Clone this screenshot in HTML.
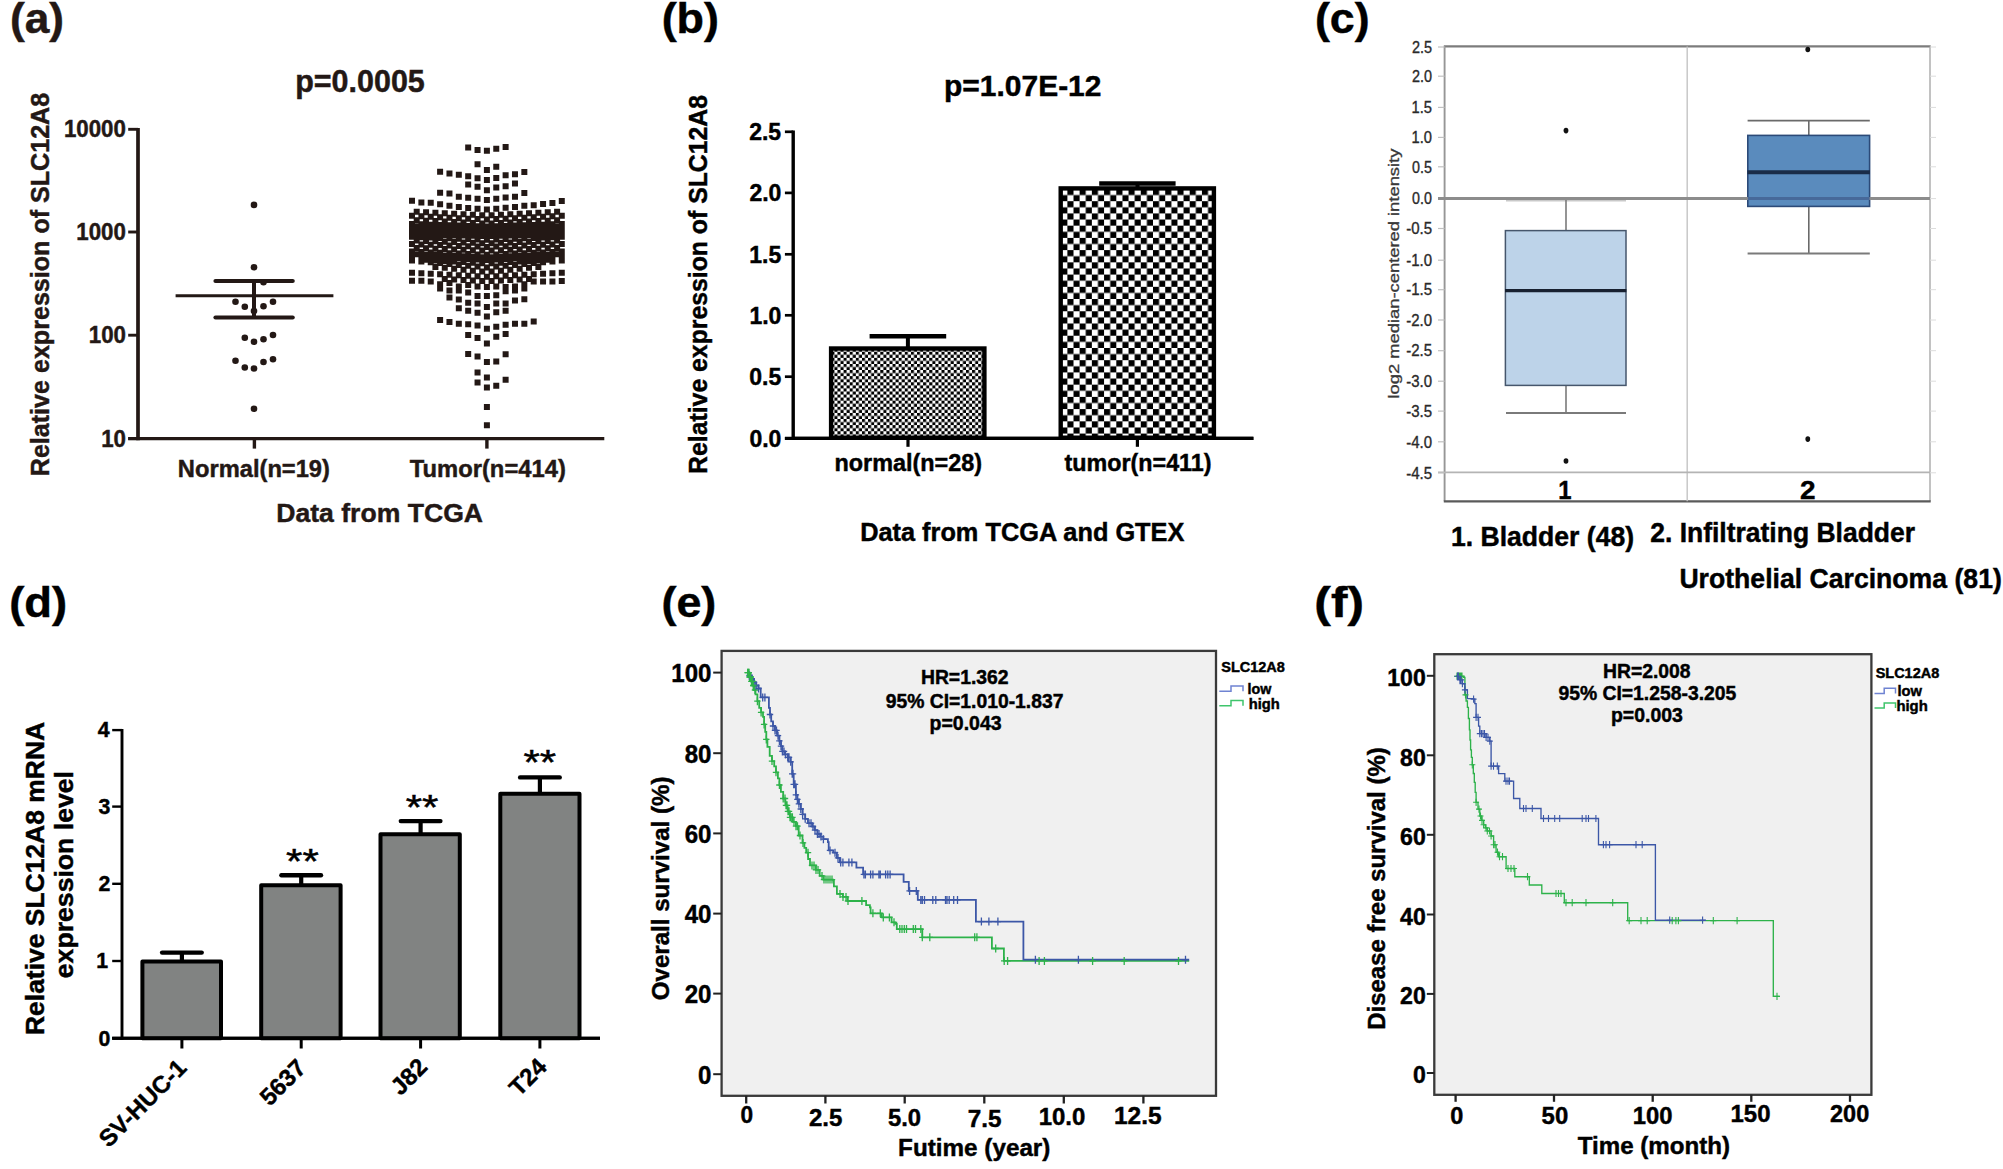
<!DOCTYPE html>
<html lang="en"><head><meta charset="utf-8"><title>SLC12A8 expression figure</title>
<style>
html,body{margin:0;padding:0;background:#fff;}
svg{display:block;font-family:"Liberation Sans",Arial,Helvetica,sans-serif;font-weight:bold;}
</style></head><body>
<svg width="2003" height="1169" viewBox="0 0 2003 1169">
<rect width="2003" height="1169" fill="#fff"/>
<g fill="#231815">
<text x="10.01" y="33" font-size="43" fill="#231815" stroke="#231815" stroke-width="0.45" textLength="54.08" lengthAdjust="spacingAndGlyphs">(a)</text>
<text x="295.22" y="91.6" font-size="30.46" fill="#231815" stroke="#231815" stroke-width="0.45" textLength="129.55" lengthAdjust="spacingAndGlyphs">p=0.0005</text>
<line x1="138" y1="127.9" x2="138" y2="440.3" stroke="#231815" stroke-width="3.7"/>
<line x1="128.2" y1="438.6" x2="604.3" y2="438.6" stroke="#231815" stroke-width="3.3"/>
<line x1="128.2" y1="129.3" x2="138" y2="129.3" stroke="#231815" stroke-width="2.9"/>
<text x="63.89" y="137.3" font-size="23.4" fill="#231815" stroke="#231815" stroke-width="0.45" textLength="62.01" lengthAdjust="spacingAndGlyphs">10000</text>
<line x1="128.2" y1="232" x2="138" y2="232" stroke="#231815" stroke-width="2.9"/>
<text x="76.26" y="240" font-size="23.4" fill="#231815" stroke="#231815" stroke-width="0.45" textLength="49.61" lengthAdjust="spacingAndGlyphs">1000</text>
<line x1="128.2" y1="335.2" x2="138" y2="335.2" stroke="#231815" stroke-width="2.9"/>
<text x="88.75" y="343.2" font-size="23.4" fill="#231815" stroke="#231815" stroke-width="0.45" textLength="37.21" lengthAdjust="spacingAndGlyphs">100</text>
<line x1="128.2" y1="438.6" x2="138" y2="438.6" stroke="#231815" stroke-width="2.9"/>
<text x="101.13" y="446.6" font-size="23.4" fill="#231815" stroke="#231815" stroke-width="0.45" textLength="24.81" lengthAdjust="spacingAndGlyphs">10</text>
<line x1="254.4" y1="438.6" x2="254.4" y2="448.6" stroke="#231815" stroke-width="3.4"/>
<line x1="486.9" y1="438.6" x2="486.9" y2="448.6" stroke="#231815" stroke-width="3.4"/>
<text x="177.86" y="476.8" font-size="23.7" fill="#231815" stroke="#231815" stroke-width="0.45" textLength="152.09" lengthAdjust="spacingAndGlyphs">Normal(n=19)</text>
<text x="409.76" y="476.7" font-size="23.78" fill="#231815" stroke="#231815" stroke-width="0.45" textLength="156.13" lengthAdjust="spacingAndGlyphs">Tumor(n=414)</text>
<text x="276.27" y="522.4" font-size="26.58" fill="#231815" stroke="#231815" stroke-width="0.45" textLength="206.75" lengthAdjust="spacingAndGlyphs">Data from TCGA</text>
<text transform="translate(49,476.23) rotate(-90)" font-size="26" fill="#231815" stroke="#231815" stroke-width="0.45" textLength="383.43" lengthAdjust="spacingAndGlyphs">Relative expression of SLC12A8</text>
<circle cx="254" cy="204.9" r="3.3"/>
<circle cx="254" cy="267.3" r="3.3"/>
<circle cx="263.5" cy="282.3" r="3.3"/>
<circle cx="235.5" cy="301.8" r="3.3"/>
<circle cx="273" cy="301.8" r="3.3"/>
<circle cx="244.8" cy="306.8" r="3.3"/>
<circle cx="263.5" cy="306.3" r="3.3"/>
<circle cx="254" cy="311" r="3.3"/>
<circle cx="244.8" cy="337.8" r="3.3"/>
<circle cx="254" cy="341.8" r="3.3"/>
<circle cx="263.5" cy="339.3" r="3.3"/>
<circle cx="273" cy="335" r="3.3"/>
<circle cx="235.5" cy="360.7" r="3.3"/>
<circle cx="244.8" cy="367.5" r="3.3"/>
<circle cx="254" cy="368.5" r="3.3"/>
<circle cx="263.5" cy="362" r="3.3"/>
<circle cx="273" cy="359.2" r="3.3"/>
<circle cx="254" cy="408.8" r="3.3"/>
<line x1="215.5" y1="281" x2="292.7" y2="281" stroke="#231815" stroke-width="4.2" stroke-linecap="round"/>
<line x1="215.5" y1="317.5" x2="292.7" y2="317.5" stroke="#231815" stroke-width="4.2" stroke-linecap="round"/>
<line x1="254" y1="281" x2="254" y2="317.5" stroke="#231815" stroke-width="4"/>
<line x1="175.6" y1="295.8" x2="333.4" y2="295.8" stroke="#231815" stroke-width="3"/>
<path d="M465.18 144.39h6v6h-6zM474.54 147.12h6v6h-6zM483.9 147.81h6v6h-6zM493.26 145.75h6v6h-6zM502.62 144.11h6v6h-6zM474.54 161.22h6v6h-6zM483.9 166.97h6v6h-6zM493.26 163.69h6v6h-6zM437.1 168.75h6v6h-6zM446.46 170.39h6v6h-6zM455.82 171.76h6v6h-6zM465.18 173.27h6v6h-6zM474.54 175.19h6v6h-6zM483.9 176.97h6v6h-6zM493.26 174.91h6v6h-6zM502.62 172.17h6v6h-6zM511.98 171.22h6v6h-6zM521.34 168.89h6v6h-6zM465.18 181.48h6v6h-6zM474.54 183.81h6v6h-6zM483.9 187.23h6v6h-6zM493.26 184.49h6v6h-6zM502.62 183.13h6v6h-6zM511.98 180.39h6v6h-6zM437.1 189.7h6v6h-6zM446.46 190.38h6v6h-6zM455.82 193.8h6v6h-6zM465.18 194.76h6v6h-6zM474.54 195.86h6v6h-6zM483.9 197.09h6v6h-6zM493.26 195.86h6v6h-6zM502.62 194.49h6v6h-6zM511.98 193.67h6v6h-6zM521.34 189.97h6v6h-6zM409.02 197.77h6v6h-6zM418.38 199.55h6v6h-6zM427.74 199.83h6v6h-6zM437.1 201.33h6v6h-6zM446.46 202.7h6v6h-6zM455.82 203.93h6v6h-6zM465.18 205.03h6v6h-6zM474.54 205.85h6v6h-6zM483.9 206.4h6v6h-6zM493.26 205.85h6v6h-6zM502.62 204.75h6v6h-6zM511.98 203.93h6v6h-6zM521.34 202.7h6v6h-6zM530.7 202.29h6v6h-6zM540.06 200.92h6v6h-6zM549.42 199.96h6v6h-6zM558.78 197.91h6v6h-6zM437.1 281.37h6v6h-6zM437.1 285.48h6v6h-6zM446.46 280h6v6h-6zM446.46 287.53h6v6h-6zM446.46 294.38h6v6h-6zM455.82 283.43h6v6h-6zM455.82 287.53h6v6h-6zM455.82 296.43h6v6h-6zM455.82 305.33h6v6h-6zM465.18 282.06h6v6h-6zM465.18 289.59h6v6h-6zM465.18 299.85h6v6h-6zM465.18 307.79h6v6h-6zM474.54 283.43h6v6h-6zM474.54 293.01h6v6h-6zM474.54 300.54h6v6h-6zM474.54 309.71h6v6h-6zM483.9 284.11h6v6h-6zM483.9 293.01h6v6h-6zM483.9 303.96h6v6h-6zM483.9 313.54h6v6h-6zM493.26 283.43h6v6h-6zM493.26 292.33h6v6h-6zM493.26 300.54h6v6h-6zM493.26 309.16h6v6h-6zM502.62 284.11h6v6h-6zM502.62 288.22h6v6h-6zM502.62 300.54h6v6h-6zM502.62 307.79h6v6h-6zM511.98 283.43h6v6h-6zM511.98 287.53h6v6h-6zM511.98 297.39h6v6h-6zM521.34 281.37h6v6h-6zM521.34 285.48h6v6h-6zM521.34 296.16h6v6h-6zM437.1 316.97h6v6h-6zM446.46 319.02h6v6h-6zM455.82 320.66h6v6h-6zM465.18 321.35h6v6h-6zM474.54 322.44h6v6h-6zM483.9 325.86h6v6h-6zM493.26 323.81h6v6h-6zM502.62 321.76h6v6h-6zM511.98 320.8h6v6h-6zM521.34 320.8h6v6h-6zM530.7 318.61h6v6h-6zM465.18 332.02h6v6h-6zM474.54 335.04h6v6h-6zM483.9 340.51h6v6h-6zM493.26 333.8h6v6h-6zM502.62 331.07h6v6h-6zM465.18 350.92h6v6h-6zM474.54 353.52h6v6h-6zM483.9 358.99h6v6h-6zM493.26 358.44h6v6h-6zM502.62 351.19h6v6h-6zM474.54 369.4h6v6h-6zM483.9 374.46h6v6h-6zM502.62 376.79h6v6h-6zM474.54 379.53h6v6h-6zM483.9 384.45h6v6h-6zM493.26 382.67h6v6h-6zM483.9 403.89h6v6h-6zM483.9 422.37h6v6h-6zM479.22 212.15h6v6h-6zM488.58 212.15h6v6h-6zM469.86 211.65h6v6h-6zM497.94 211.65h6v6h-6zM460.5 211.15h6v6h-6zM507.3 211.15h6v6h-6zM451.14 210.65h6v6h-6zM516.66 210.65h6v6h-6zM441.78 210.15h6v6h-6zM526.02 210.15h6v6h-6zM432.42 209.65h6v6h-6zM535.38 209.65h6v6h-6zM423.06 209.15h6v6h-6zM544.74 209.15h6v6h-6zM413.7 208.65h6v6h-6zM554.1 208.65h6v6h-6zM409.02 212.8h6v6h-6zM418.38 213.28h6v6h-6zM427.74 213.75h6v6h-6zM437.1 214.22h6v6h-6zM446.46 214.7h6v6h-6zM455.82 215.18h6v6h-6zM465.18 215.65h6v6h-6zM474.54 216.12h6v6h-6zM483.9 216.6h6v6h-6zM493.26 216.12h6v6h-6zM502.62 215.65h6v6h-6zM511.98 215.18h6v6h-6zM521.34 214.7h6v6h-6zM530.7 214.22h6v6h-6zM540.06 213.75h6v6h-6zM549.42 213.28h6v6h-6zM558.78 212.8h6v6h-6zM479.22 220.38h6v6h-6zM488.58 220.38h6v6h-6zM469.86 219.92h6v6h-6zM497.94 219.92h6v6h-6zM460.5 219.47h6v6h-6zM507.3 219.47h6v6h-6zM451.14 219.03h6v6h-6zM516.66 219.03h6v6h-6zM441.78 218.57h6v6h-6zM526.02 218.57h6v6h-6zM432.42 218.12h6v6h-6zM535.38 218.12h6v6h-6zM423.06 217.68h6v6h-6zM544.74 217.68h6v6h-6zM413.7 217.22h6v6h-6zM554.1 217.22h6v6h-6zM409.02 221h6v6h-6zM418.38 221.32h6v6h-6zM427.74 221.65h6v6h-6zM437.1 221.97h6v6h-6zM446.46 222.3h6v6h-6zM455.82 222.62h6v6h-6zM465.18 222.95h6v6h-6zM474.54 223.28h6v6h-6zM483.9 223.6h6v6h-6zM493.26 223.28h6v6h-6zM502.62 222.95h6v6h-6zM511.98 222.62h6v6h-6zM521.34 222.3h6v6h-6zM530.7 221.97h6v6h-6zM540.06 221.65h6v6h-6zM549.42 221.32h6v6h-6zM558.78 221h6v6h-6zM479.22 224.34h6v6h-6zM488.58 224.34h6v6h-6zM469.86 224.21h6v6h-6zM497.94 224.21h6v6h-6zM460.5 224.09h6v6h-6zM507.3 224.09h6v6h-6zM451.14 223.96h6v6h-6zM516.66 223.96h6v6h-6zM441.78 223.84h6v6h-6zM526.02 223.84h6v6h-6zM432.42 223.71h6v6h-6zM535.38 223.71h6v6h-6zM423.06 223.59h6v6h-6zM544.74 223.59h6v6h-6zM413.7 223.46h6v6h-6zM554.1 223.46h6v6h-6zM409.02 224.8h6v6h-6zM418.38 224.93h6v6h-6zM427.74 225.05h6v6h-6zM437.1 225.18h6v6h-6zM446.46 225.3h6v6h-6zM455.82 225.43h6v6h-6zM465.18 225.55h6v6h-6zM474.54 225.68h6v6h-6zM483.9 225.8h6v6h-6zM493.26 225.68h6v6h-6zM502.62 225.55h6v6h-6zM511.98 225.43h6v6h-6zM521.34 225.3h6v6h-6zM530.7 225.18h6v6h-6zM540.06 225.05h6v6h-6zM549.42 224.93h6v6h-6zM558.78 224.8h6v6h-6zM479.22 227.14h6v6h-6zM488.58 227.14h6v6h-6zM469.86 227.01h6v6h-6zM497.94 227.01h6v6h-6zM460.5 226.89h6v6h-6zM507.3 226.89h6v6h-6zM451.14 226.76h6v6h-6zM516.66 226.76h6v6h-6zM441.78 226.64h6v6h-6zM526.02 226.64h6v6h-6zM432.42 226.51h6v6h-6zM535.38 226.51h6v6h-6zM423.06 226.39h6v6h-6zM544.74 226.39h6v6h-6zM413.7 226.26h6v6h-6zM554.1 226.26h6v6h-6zM409.02 227.6h6v6h-6zM418.38 227.72h6v6h-6zM427.74 227.85h6v6h-6zM437.1 227.97h6v6h-6zM446.46 228.1h6v6h-6zM455.82 228.22h6v6h-6zM465.18 228.35h6v6h-6zM474.54 228.47h6v6h-6zM483.9 228.6h6v6h-6zM493.26 228.47h6v6h-6zM502.62 228.35h6v6h-6zM511.98 228.22h6v6h-6zM521.34 228.1h6v6h-6zM530.7 227.97h6v6h-6zM540.06 227.85h6v6h-6zM549.42 227.72h6v6h-6zM558.78 227.6h6v6h-6zM479.22 229.94h6v6h-6zM488.58 229.94h6v6h-6zM469.86 229.81h6v6h-6zM497.94 229.81h6v6h-6zM460.5 229.69h6v6h-6zM507.3 229.69h6v6h-6zM451.14 229.56h6v6h-6zM516.66 229.56h6v6h-6zM441.78 229.44h6v6h-6zM526.02 229.44h6v6h-6zM432.42 229.31h6v6h-6zM535.38 229.31h6v6h-6zM423.06 229.19h6v6h-6zM544.74 229.19h6v6h-6zM413.7 229.06h6v6h-6zM554.1 229.06h6v6h-6zM409.02 230.4h6v6h-6zM418.38 230.53h6v6h-6zM427.74 230.65h6v6h-6zM437.1 230.78h6v6h-6zM446.46 230.9h6v6h-6zM455.82 231.03h6v6h-6zM465.18 231.15h6v6h-6zM474.54 231.28h6v6h-6zM483.9 231.4h6v6h-6zM493.26 231.28h6v6h-6zM502.62 231.15h6v6h-6zM511.98 231.03h6v6h-6zM521.34 230.9h6v6h-6zM530.7 230.78h6v6h-6zM540.06 230.65h6v6h-6zM549.42 230.53h6v6h-6zM558.78 230.4h6v6h-6zM479.22 232.93h6v6h-6zM488.58 232.93h6v6h-6zM469.86 232.78h6v6h-6zM497.94 232.78h6v6h-6zM460.5 232.62h6v6h-6zM507.3 232.62h6v6h-6zM451.14 232.47h6v6h-6zM516.66 232.47h6v6h-6zM441.78 232.33h6v6h-6zM526.02 232.33h6v6h-6zM432.42 232.18h6v6h-6zM535.38 232.18h6v6h-6zM423.06 232.03h6v6h-6zM544.74 232.03h6v6h-6zM413.7 231.88h6v6h-6zM554.1 231.88h6v6h-6zM409.02 233.8h6v6h-6zM418.38 234.18h6v6h-6zM427.74 234.55h6v6h-6zM437.1 234.93h6v6h-6zM446.46 235.3h6v6h-6zM455.82 235.68h6v6h-6zM465.18 236.05h6v6h-6zM474.54 236.43h6v6h-6zM483.9 236.8h6v6h-6zM493.26 236.43h6v6h-6zM502.62 236.05h6v6h-6zM511.98 235.68h6v6h-6zM521.34 235.3h6v6h-6zM530.7 234.93h6v6h-6zM540.06 234.55h6v6h-6zM549.42 234.18h6v6h-6zM558.78 233.8h6v6h-6zM479.22 240.21h6v6h-6zM488.58 240.21h6v6h-6zM469.86 239.84h6v6h-6zM497.94 239.84h6v6h-6zM460.5 239.46h6v6h-6zM507.3 239.46h6v6h-6zM451.14 239.09h6v6h-6zM516.66 239.09h6v6h-6zM441.78 238.71h6v6h-6zM526.02 238.71h6v6h-6zM432.42 238.34h6v6h-6zM535.38 238.34h6v6h-6zM423.06 237.96h6v6h-6zM544.74 237.96h6v6h-6zM413.7 237.59h6v6h-6zM554.1 237.59h6v6h-6zM409.02 241h6v6h-6zM418.38 241.38h6v6h-6zM427.74 241.75h6v6h-6zM437.1 242.12h6v6h-6zM446.46 242.5h6v6h-6zM455.82 242.88h6v6h-6zM465.18 243.25h6v6h-6zM474.54 243.62h6v6h-6zM483.9 244h6v6h-6zM493.26 243.62h6v6h-6zM502.62 243.25h6v6h-6zM511.98 242.88h6v6h-6zM521.34 242.5h6v6h-6zM530.7 242.12h6v6h-6zM540.06 241.75h6v6h-6zM549.42 241.38h6v6h-6zM558.78 241h6v6h-6zM479.22 247.61h6v6h-6zM488.58 247.61h6v6h-6zM469.86 247.24h6v6h-6zM497.94 247.24h6v6h-6zM460.5 246.86h6v6h-6zM507.3 246.86h6v6h-6zM451.14 246.49h6v6h-6zM516.66 246.49h6v6h-6zM441.78 246.11h6v6h-6zM526.02 246.11h6v6h-6zM432.42 245.74h6v6h-6zM535.38 245.74h6v6h-6zM423.06 245.36h6v6h-6zM544.74 245.36h6v6h-6zM413.7 244.99h6v6h-6zM554.1 244.99h6v6h-6zM409.02 248.6h6v6h-6zM418.38 249h6v6h-6zM427.74 249.4h6v6h-6zM437.1 249.8h6v6h-6zM446.46 250.2h6v6h-6zM455.82 250.6h6v6h-6zM465.18 251h6v6h-6zM474.54 251.4h6v6h-6zM483.9 251.8h6v6h-6zM493.26 251.4h6v6h-6zM502.62 251h6v6h-6zM511.98 250.6h6v6h-6zM521.34 250.2h6v6h-6zM530.7 249.8h6v6h-6zM540.06 249.4h6v6h-6zM549.42 249h6v6h-6zM558.78 248.6h6v6h-6zM479.22 254.19h6v6h-6zM488.58 254.19h6v6h-6zM469.86 253.76h6v6h-6zM497.94 253.76h6v6h-6zM460.5 253.34h6v6h-6zM507.3 253.34h6v6h-6zM451.14 252.91h6v6h-6zM516.66 252.91h6v6h-6zM441.78 252.49h6v6h-6zM526.02 252.49h6v6h-6zM432.42 252.06h6v6h-6zM535.38 252.06h6v6h-6zM423.06 251.64h6v6h-6zM544.74 251.64h6v6h-6zM413.7 251.21h6v6h-6zM554.1 251.21h6v6h-6zM409.02 253h6v6h-6zM418.38 253.5h6v6h-6zM427.74 254h6v6h-6zM437.1 254.5h6v6h-6zM446.46 255h6v6h-6zM455.82 255.5h6v6h-6zM465.18 256h6v6h-6zM474.54 256.5h6v6h-6zM483.9 257h6v6h-6zM493.26 256.5h6v6h-6zM502.62 256h6v6h-6zM511.98 255.5h6v6h-6zM521.34 255h6v6h-6zM530.7 254.5h6v6h-6zM540.06 254h6v6h-6zM549.42 253.5h6v6h-6zM558.78 253h6v6h-6zM479.22 260.22h6v6h-6zM488.58 260.22h6v6h-6zM469.86 259.66h6v6h-6zM497.94 259.66h6v6h-6zM460.5 259.09h6v6h-6zM507.3 259.09h6v6h-6zM451.14 258.53h6v6h-6zM516.66 258.53h6v6h-6zM441.78 257.97h6v6h-6zM526.02 257.97h6v6h-6zM432.42 257.41h6v6h-6zM535.38 257.41h6v6h-6zM423.06 256.84h6v6h-6zM544.74 256.84h6v6h-6zM409.02 257.5h6v6h-6zM418.38 258.38h6v6h-6zM427.74 259.25h6v6h-6zM437.1 260.12h6v6h-6zM446.46 261h6v6h-6zM455.82 261.88h6v6h-6zM465.18 262.75h6v6h-6zM474.54 263.62h6v6h-6zM483.9 264.5h6v6h-6zM493.26 263.62h6v6h-6zM502.62 262.75h6v6h-6zM511.98 261.88h6v6h-6zM521.34 261h6v6h-6zM530.7 260.12h6v6h-6zM540.06 259.25h6v6h-6zM549.42 258.38h6v6h-6zM558.78 257.5h6v6h-6zM479.22 268.62h6v6h-6zM488.58 268.62h6v6h-6zM469.86 267.68h6v6h-6zM497.94 267.68h6v6h-6zM460.5 266.73h6v6h-6zM507.3 266.73h6v6h-6zM451.14 265.78h6v6h-6zM516.66 265.78h6v6h-6zM441.78 264.82h6v6h-6zM526.02 264.82h6v6h-6zM432.42 263.88h6v6h-6zM535.38 263.88h6v6h-6zM409.02 269.8h6v6h-6zM418.38 270.29h6v6h-6zM427.74 270.77h6v6h-6zM437.1 271.26h6v6h-6zM446.46 271.75h6v6h-6zM455.82 272.24h6v6h-6zM465.18 272.73h6v6h-6zM474.54 273.21h6v6h-6zM483.9 273.7h6v6h-6zM493.26 273.21h6v6h-6zM502.62 272.73h6v6h-6zM511.98 272.24h6v6h-6zM521.34 271.75h6v6h-6zM530.7 271.26h6v6h-6zM540.06 270.77h6v6h-6zM549.42 270.29h6v6h-6zM558.78 269.8h6v6h-6zM479.22 278.03h6v6h-6zM488.58 278.03h6v6h-6zM469.86 277.49h6v6h-6zM497.94 277.49h6v6h-6zM460.5 276.96h6v6h-6zM507.3 276.96h6v6h-6zM451.14 276.42h6v6h-6zM516.66 276.42h6v6h-6zM441.78 275.88h6v6h-6zM526.02 275.88h6v6h-6zM409.02 277.7h6v6h-6zM418.38 277.7h6v6h-6zM427.74 278.6h6v6h-6zM530.7 278.6h6v6h-6zM540.06 278.6h6v6h-6zM549.42 278.6h6v6h-6zM558.78 278h6v6h-6z" fill="#231815"/>
</g>
<defs>
<pattern id="ck1" patternUnits="userSpaceOnUse" x="837.45" y="351.7" width="6.12" height="6.12"><rect width="6.12" height="6.12" fill="#fff"/><rect width="3.06" height="3.06" fill="#000"/><rect x="3.06" y="3.06" width="3.06" height="3.06" fill="#000"/></pattern>
<pattern id="ck2" patternUnits="userSpaceOnUse" x="1079.62" y="201.2" width="12.23" height="12.23"><rect width="12.23" height="12.23" fill="#fff"/><rect width="6.12" height="6.12" fill="#000"/><rect x="6.12" y="6.12" width="6.12" height="6.12" fill="#000"/></pattern>
</defs>
<text x="661.68" y="33" font-size="43" stroke="#000" stroke-width="0.45" textLength="57.33" lengthAdjust="spacingAndGlyphs">(b)</text>
<text x="944.05" y="96.2" font-size="29.96" stroke="#000" stroke-width="0.45" textLength="157.4" lengthAdjust="spacingAndGlyphs">p=1.07E-12</text>
<line x1="793.2" y1="130.5" x2="793.2" y2="439.9" stroke="#000" stroke-width="3.4"/>
<line x1="784.9" y1="438.4" x2="1253.4" y2="438.4" stroke="#000" stroke-width="3.1"/>
<line x1="784.9" y1="131.8" x2="793.2" y2="131.8" stroke="#000" stroke-width="2.7"/>
<text x="749.2" y="140" font-size="23" stroke="#000" stroke-width="0.45" textLength="31.97" lengthAdjust="spacingAndGlyphs">2.5</text>
<line x1="784.9" y1="192.9" x2="793.2" y2="192.9" stroke="#000" stroke-width="2.7"/>
<text x="749.43" y="201.1" font-size="23" stroke="#000" stroke-width="0.45" textLength="31.97" lengthAdjust="spacingAndGlyphs">2.0</text>
<line x1="784.9" y1="254.3" x2="793.2" y2="254.3" stroke="#000" stroke-width="2.7"/>
<text x="749.21" y="262.5" font-size="23" stroke="#000" stroke-width="0.45" textLength="31.97" lengthAdjust="spacingAndGlyphs">1.5</text>
<line x1="784.9" y1="315.3" x2="793.2" y2="315.3" stroke="#000" stroke-width="2.7"/>
<text x="749.44" y="323.5" font-size="23" stroke="#000" stroke-width="0.45" textLength="31.97" lengthAdjust="spacingAndGlyphs">1.0</text>
<line x1="784.9" y1="376.7" x2="793.2" y2="376.7" stroke="#000" stroke-width="2.7"/>
<text x="749.21" y="384.9" font-size="23" stroke="#000" stroke-width="0.45" textLength="31.97" lengthAdjust="spacingAndGlyphs">0.5</text>
<line x1="784.9" y1="438.4" x2="793.2" y2="438.4" stroke="#000" stroke-width="2.7"/>
<text x="749.44" y="446.6" font-size="23" stroke="#000" stroke-width="0.45" textLength="31.97" lengthAdjust="spacingAndGlyphs">0.0</text>
<line x1="908" y1="438.4" x2="908" y2="446.8" stroke="#000" stroke-width="3.2"/>
<line x1="1137.4" y1="438.4" x2="1137.4" y2="446.8" stroke="#000" stroke-width="3.2"/>
<rect x="831.1" y="348.5" width="153.3" height="89.2" fill="url(#ck1)" stroke="#000" stroke-width="4.4"/>
<rect x="1060.7" y="188.4" width="153.2" height="249.3" fill="url(#ck2)" stroke="#000" stroke-width="4.4"/>
<line x1="793.2" y1="438.4" x2="1253.4" y2="438.4" stroke="#000" stroke-width="3.1"/>
<line x1="869.6" y1="336.2" x2="946.2" y2="336.2" stroke="#000" stroke-width="4.5"/>
<line x1="907.9" y1="336.2" x2="907.9" y2="347" stroke="#000" stroke-width="4"/>
<line x1="1099.2" y1="183.4" x2="1175.6" y2="183.4" stroke="#000" stroke-width="4.5"/>
<line x1="1137.5" y1="183.4" x2="1137.5" y2="187" stroke="#000" stroke-width="4"/>
<text x="834.48" y="471.1" font-size="23.39" stroke="#000" stroke-width="0.45" textLength="147.53" lengthAdjust="spacingAndGlyphs">normal(n=28)</text>
<text x="1064.57" y="470.9" font-size="23.3" stroke="#000" stroke-width="0.45" textLength="146.94" lengthAdjust="spacingAndGlyphs">tumor(n=411)</text>
<text x="860.15" y="541.1" font-size="25.34" stroke="#000" stroke-width="0.45" textLength="324.24" lengthAdjust="spacingAndGlyphs">Data from TCGA and GTEX</text>
<text transform="translate(706.8,473.91) rotate(-90)" font-size="26" stroke="#000" stroke-width="0.45" textLength="378.91" lengthAdjust="spacingAndGlyphs">Relative expression of SLC12A8</text>
<text x="1314.99" y="33" font-size="43" stroke="#000" stroke-width="0.45" textLength="54.62" lengthAdjust="spacingAndGlyphs">(c)</text>
<line x1="1443.8" y1="46.4" x2="1930.7" y2="46.4" stroke="#7c7c7c" stroke-width="2.4"/>
<line x1="1444.6" y1="46.4" x2="1444.6" y2="501.3" stroke="#969696" stroke-width="1.9"/>
<line x1="1930" y1="46.4" x2="1930" y2="501.3" stroke="#a8a8a8" stroke-width="1.4"/>
<line x1="1443.8" y1="501.3" x2="1930.7" y2="501.3" stroke="#5a5a5a" stroke-width="2.2"/>
<line x1="1687.2" y1="46.4" x2="1687.2" y2="501.3" stroke="#c4c4c4" stroke-width="1.4"/>
<line x1="1438" y1="472.4" x2="1930" y2="472.4" stroke="#b4b4b4" stroke-width="1.6"/>
<line x1="1438" y1="47" x2="1444.6" y2="47" stroke="#c0c0c0" stroke-width="1.2"/>
<line x1="1930" y1="47" x2="1936" y2="47" stroke="#dcdcdc" stroke-width="1"/>
<text stroke="#2a2a2a" stroke-width="0.35" x="1411.88" y="52.7" font-size="16" font-weight="normal" fill="#2a2a2a" textLength="20.1" lengthAdjust="spacingAndGlyphs">2.5</text>
<line x1="1438" y1="76.2" x2="1444.6" y2="76.2" stroke="#c0c0c0" stroke-width="1.2"/>
<line x1="1930" y1="76.2" x2="1936" y2="76.2" stroke="#dcdcdc" stroke-width="1"/>
<text stroke="#2a2a2a" stroke-width="0.35" x="1411.88" y="81.9" font-size="16" font-weight="normal" fill="#2a2a2a" textLength="20.03" lengthAdjust="spacingAndGlyphs">2.0</text>
<line x1="1438" y1="107.4" x2="1444.6" y2="107.4" stroke="#c0c0c0" stroke-width="1.2"/>
<line x1="1930" y1="107.4" x2="1936" y2="107.4" stroke="#dcdcdc" stroke-width="1"/>
<text stroke="#2a2a2a" stroke-width="0.35" x="1411.49" y="113.1" font-size="16" font-weight="normal" fill="#2a2a2a" textLength="20.5" lengthAdjust="spacingAndGlyphs">1.5</text>
<line x1="1438" y1="137.4" x2="1444.6" y2="137.4" stroke="#c0c0c0" stroke-width="1.2"/>
<line x1="1930" y1="137.4" x2="1936" y2="137.4" stroke="#dcdcdc" stroke-width="1"/>
<text stroke="#2a2a2a" stroke-width="0.35" x="1411.5" y="143.1" font-size="16" font-weight="normal" fill="#2a2a2a" textLength="20.42" lengthAdjust="spacingAndGlyphs">1.0</text>
<line x1="1438" y1="166.8" x2="1444.6" y2="166.8" stroke="#c0c0c0" stroke-width="1.2"/>
<line x1="1930" y1="166.8" x2="1936" y2="166.8" stroke="#dcdcdc" stroke-width="1"/>
<text stroke="#2a2a2a" stroke-width="0.35" x="1412.1" y="172.5" font-size="16" font-weight="normal" fill="#2a2a2a" textLength="19.87" lengthAdjust="spacingAndGlyphs">0.5</text>
<line x1="1438" y1="198.6" x2="1444.6" y2="198.6" stroke="#c0c0c0" stroke-width="1.2"/>
<line x1="1930" y1="198.6" x2="1936" y2="198.6" stroke="#dcdcdc" stroke-width="1"/>
<text stroke="#2a2a2a" stroke-width="0.35" x="1412.1" y="204.3" font-size="16" font-weight="normal" fill="#2a2a2a" textLength="19.8" lengthAdjust="spacingAndGlyphs">0.0</text>
<line x1="1438" y1="228.5" x2="1444.6" y2="228.5" stroke="#c0c0c0" stroke-width="1.2"/>
<line x1="1930" y1="228.5" x2="1936" y2="228.5" stroke="#dcdcdc" stroke-width="1"/>
<text stroke="#2a2a2a" stroke-width="0.35" x="1406.2" y="234.2" font-size="16" font-weight="normal" fill="#2a2a2a" textLength="25.85" lengthAdjust="spacingAndGlyphs">-0.5</text>
<line x1="1438" y1="260.2" x2="1444.6" y2="260.2" stroke="#c0c0c0" stroke-width="1.2"/>
<line x1="1930" y1="260.2" x2="1936" y2="260.2" stroke="#dcdcdc" stroke-width="1"/>
<text stroke="#2a2a2a" stroke-width="0.35" x="1406.2" y="265.9" font-size="16" font-weight="normal" fill="#2a2a2a" textLength="25.77" lengthAdjust="spacingAndGlyphs">-1.0</text>
<line x1="1438" y1="289.7" x2="1444.6" y2="289.7" stroke="#c0c0c0" stroke-width="1.2"/>
<line x1="1930" y1="289.7" x2="1936" y2="289.7" stroke="#dcdcdc" stroke-width="1"/>
<text stroke="#2a2a2a" stroke-width="0.35" x="1406.2" y="295.4" font-size="16" font-weight="normal" fill="#2a2a2a" textLength="25.85" lengthAdjust="spacingAndGlyphs">-1.5</text>
<line x1="1438" y1="320" x2="1444.6" y2="320" stroke="#c0c0c0" stroke-width="1.2"/>
<line x1="1930" y1="320" x2="1936" y2="320" stroke="#dcdcdc" stroke-width="1"/>
<text stroke="#2a2a2a" stroke-width="0.35" x="1406.2" y="325.7" font-size="16" font-weight="normal" fill="#2a2a2a" textLength="25.77" lengthAdjust="spacingAndGlyphs">-2.0</text>
<line x1="1438" y1="350.7" x2="1444.6" y2="350.7" stroke="#c0c0c0" stroke-width="1.2"/>
<line x1="1930" y1="350.7" x2="1936" y2="350.7" stroke="#dcdcdc" stroke-width="1"/>
<text stroke="#2a2a2a" stroke-width="0.35" x="1406.2" y="356.4" font-size="16" font-weight="normal" fill="#2a2a2a" textLength="25.85" lengthAdjust="spacingAndGlyphs">-2.5</text>
<line x1="1438" y1="381.2" x2="1444.6" y2="381.2" stroke="#c0c0c0" stroke-width="1.2"/>
<line x1="1930" y1="381.2" x2="1936" y2="381.2" stroke="#dcdcdc" stroke-width="1"/>
<text stroke="#2a2a2a" stroke-width="0.35" x="1406.2" y="386.9" font-size="16" font-weight="normal" fill="#2a2a2a" textLength="25.77" lengthAdjust="spacingAndGlyphs">-3.0</text>
<line x1="1438" y1="411.1" x2="1444.6" y2="411.1" stroke="#c0c0c0" stroke-width="1.2"/>
<line x1="1930" y1="411.1" x2="1936" y2="411.1" stroke="#dcdcdc" stroke-width="1"/>
<text stroke="#2a2a2a" stroke-width="0.35" x="1406.2" y="416.8" font-size="16" font-weight="normal" fill="#2a2a2a" textLength="25.85" lengthAdjust="spacingAndGlyphs">-3.5</text>
<line x1="1438" y1="441.8" x2="1444.6" y2="441.8" stroke="#c0c0c0" stroke-width="1.2"/>
<line x1="1930" y1="441.8" x2="1936" y2="441.8" stroke="#dcdcdc" stroke-width="1"/>
<text stroke="#2a2a2a" stroke-width="0.35" x="1406.2" y="447.5" font-size="16" font-weight="normal" fill="#2a2a2a" textLength="25.77" lengthAdjust="spacingAndGlyphs">-4.0</text>
<line x1="1438" y1="472.8" x2="1444.6" y2="472.8" stroke="#c0c0c0" stroke-width="1.2"/>
<line x1="1930" y1="472.8" x2="1936" y2="472.8" stroke="#dcdcdc" stroke-width="1"/>
<text stroke="#2a2a2a" stroke-width="0.35" x="1406.2" y="478.5" font-size="16" font-weight="normal" fill="#2a2a2a" textLength="25.85" lengthAdjust="spacingAndGlyphs">-4.5</text>
<text stroke="#383838" stroke-width="0.3" transform="translate(1399.2,398.59) rotate(-90)" font-size="14.6" font-weight="normal" fill="#383838" textLength="249.98" lengthAdjust="spacingAndGlyphs">log2 median-centered intensity</text>
<line x1="1506" y1="200.6" x2="1626" y2="200.6" stroke="#c9c9c9" stroke-width="2"/>
<line x1="1566" y1="200" x2="1566" y2="230.3" stroke="#7a7a7a" stroke-width="1.6"/>
<line x1="1566" y1="385.7" x2="1566" y2="413.1" stroke="#7a7a7a" stroke-width="1.6"/>
<line x1="1506" y1="413.1" x2="1626" y2="413.1" stroke="#7a7a7a" stroke-width="2"/>
<rect x="1505.4" y="230.6" width="120.6" height="154.8" fill="#bdd3e9" stroke="#46566c" stroke-width="1.5"/>
<line x1="1505" y1="290.6" x2="1626.4" y2="290.6" stroke="#182030" stroke-width="3.4"/>
<line x1="1808.8" y1="120.6" x2="1808.8" y2="134.9" stroke="#6a6a6a" stroke-width="1.6"/>
<line x1="1808.8" y1="206.8" x2="1808.8" y2="253.5" stroke="#6a6a6a" stroke-width="1.6"/>
<line x1="1747.6" y1="120.6" x2="1869.8" y2="120.6" stroke="#6a6a6a" stroke-width="1.8"/>
<line x1="1747.6" y1="253.5" x2="1869.8" y2="253.5" stroke="#7a7a7a" stroke-width="1.8"/>
<rect x="1747.8" y="135.4" width="121.8" height="71" fill="#5a8bbd" stroke="#2c4a78" stroke-width="1.6"/>
<line x1="1747.4" y1="172.3" x2="1870" y2="172.3" stroke="#1a2c48" stroke-width="4"/>
<line x1="1438" y1="198.6" x2="1930" y2="198.6" stroke="#8c8c8c" stroke-width="3"/>
<line x1="1747.8" y1="198.6" x2="1869.6" y2="198.6" stroke="#47699a" stroke-width="3"/>
<ellipse cx="1566" cy="130.6" rx="2.4" ry="2.8" fill="#111"/>
<ellipse cx="1807.8" cy="49.5" rx="2.4" ry="2.8" fill="#111"/>
<ellipse cx="1566" cy="461" rx="2.4" ry="2.8" fill="#111"/>
<ellipse cx="1807.8" cy="439.1" rx="2.4" ry="2.8" fill="#111"/>
<text x="1558.37" y="499.3" font-size="26.5" stroke="#000" stroke-width="0.45" textLength="13.25" lengthAdjust="spacingAndGlyphs">1</text>
<text x="1799.96" y="499.3" font-size="26.5" stroke="#000" stroke-width="0.45" textLength="15.55" lengthAdjust="spacingAndGlyphs">2</text>
<text x="1450.9" y="545.8" font-size="27" stroke="#000" stroke-width="0.45" textLength="183.22" lengthAdjust="spacingAndGlyphs">1. Bladder (48)</text>
<text x="1650.21" y="541.6" font-size="27" stroke="#000" stroke-width="0.45" textLength="264.82" lengthAdjust="spacingAndGlyphs">2. Infiltrating Bladder</text>
<text x="1679.4" y="588.2" font-size="27.2" stroke="#000" stroke-width="0.45" textLength="322.41" lengthAdjust="spacingAndGlyphs">Urothelial Carcinoma (81)</text>
<text x="9.16" y="617.3" font-size="43" stroke="#000" stroke-width="0.45" textLength="57.97" lengthAdjust="spacingAndGlyphs">(d)</text>
<line x1="122" y1="728.9" x2="122" y2="1039.8" stroke="#000" stroke-width="2.9"/>
<line x1="112.2" y1="1038.3" x2="600" y2="1038.3" stroke="#000" stroke-width="3"/>
<line x1="112.2" y1="730.1" x2="122" y2="730.1" stroke="#000" stroke-width="2.4"/>
<text x="97.67" y="737.4" font-size="22.2" stroke="#000" stroke-width="0.45" textLength="11.85" lengthAdjust="spacingAndGlyphs">4</text>
<line x1="112.2" y1="806.6" x2="122" y2="806.6" stroke="#000" stroke-width="2.4"/>
<text x="98.42" y="813.9" font-size="22.2" stroke="#000" stroke-width="0.45" textLength="11.85" lengthAdjust="spacingAndGlyphs">3</text>
<line x1="112.2" y1="883.8" x2="122" y2="883.8" stroke="#000" stroke-width="2.4"/>
<text x="98.42" y="891.1" font-size="22.2" stroke="#000" stroke-width="0.45" textLength="11.85" lengthAdjust="spacingAndGlyphs">2</text>
<line x1="112.2" y1="961" x2="122" y2="961" stroke="#000" stroke-width="2.4"/>
<text x="96.3" y="968.3" font-size="22.2" stroke="#000" stroke-width="0.45" textLength="11.85" lengthAdjust="spacingAndGlyphs">1</text>
<line x1="112.2" y1="1038.3" x2="122" y2="1038.3" stroke="#000" stroke-width="2.4"/>
<text x="98.42" y="1045.6" font-size="22.2" stroke="#000" stroke-width="0.45" textLength="11.85" lengthAdjust="spacingAndGlyphs">0</text>
<line x1="181.9" y1="952.6" x2="181.9" y2="960.4" stroke="#000" stroke-width="4.2"/>
<line x1="162.1" y1="952.6" x2="201.7" y2="952.6" stroke="#000" stroke-width="4.4" stroke-linecap="round"/>
<rect x="142.4" y="961.4" width="78.6" height="76.9" fill="#818382" stroke="#000" stroke-width="4" stroke-linejoin="round"/>
<line x1="181.9" y1="1039.3" x2="181.9" y2="1048.5" stroke="#000" stroke-width="3"/>
<line x1="301.2" y1="875.3" x2="301.2" y2="884.2" stroke="#000" stroke-width="4.2"/>
<line x1="281.4" y1="875.3" x2="321" y2="875.3" stroke="#000" stroke-width="4.4" stroke-linecap="round"/>
<rect x="261.2" y="885.2" width="79.4" height="153.1" fill="#818382" stroke="#000" stroke-width="4" stroke-linejoin="round"/>
<line x1="301.2" y1="1039.3" x2="301.2" y2="1048.5" stroke="#000" stroke-width="3"/>
<line x1="420.6" y1="821.1" x2="420.6" y2="833.3" stroke="#000" stroke-width="4.2"/>
<line x1="400.8" y1="821.1" x2="440.4" y2="821.1" stroke="#000" stroke-width="4.4" stroke-linecap="round"/>
<rect x="380.5" y="834.3" width="79.3" height="204" fill="#818382" stroke="#000" stroke-width="4" stroke-linejoin="round"/>
<line x1="420.6" y1="1039.3" x2="420.6" y2="1048.5" stroke="#000" stroke-width="3"/>
<line x1="539.9" y1="777.4" x2="539.9" y2="792.7" stroke="#000" stroke-width="4.2"/>
<line x1="520.1" y1="777.4" x2="559.7" y2="777.4" stroke="#000" stroke-width="4.4" stroke-linecap="round"/>
<rect x="500.3" y="793.7" width="79.2" height="244.6" fill="#818382" stroke="#000" stroke-width="4" stroke-linejoin="round"/>
<line x1="539.9" y1="1039.3" x2="539.9" y2="1048.5" stroke="#000" stroke-width="3"/>
<line x1="112.2" y1="1038.3" x2="600" y2="1038.3" stroke="#000" stroke-width="3"/>
<text stroke="#000" stroke-width="0.5" x="286.1" y="873" font-size="34.6" font-weight="normal" textLength="32.6" lengthAdjust="spacingAndGlyphs">**</text>
<text stroke="#000" stroke-width="0.5" x="405.8" y="819.4" font-size="34.6" font-weight="normal" textLength="32.6" lengthAdjust="spacingAndGlyphs">**</text>
<text stroke="#000" stroke-width="0.5" x="523.4" y="774.4" font-size="34.6" font-weight="normal" textLength="32.6" lengthAdjust="spacingAndGlyphs">**</text>
<text transform="translate(188,1069.3) rotate(-45)" font-size="24" stroke="#000" stroke-width="0.45" text-anchor="end">SV-HUC-1</text>
<text transform="translate(307.4,1069.3) rotate(-45)" font-size="24" stroke="#000" stroke-width="0.45" text-anchor="end">5637</text>
<text transform="translate(428.8,1068.3) rotate(-45)" font-size="24" stroke="#000" stroke-width="0.45" text-anchor="end">J82</text>
<text transform="translate(548.2,1068.3) rotate(-45)" font-size="24" stroke="#000" stroke-width="0.45" text-anchor="end">T24</text>
<text transform="translate(44,1035.02) rotate(-90)" font-size="26.6" stroke="#000" stroke-width="0.45" textLength="313.12" lengthAdjust="spacingAndGlyphs">Relative SLC12A8 mRNA</text>
<text transform="translate(73,978.23) rotate(-90)" font-size="26.6" stroke="#000" stroke-width="0.45" textLength="207.23" lengthAdjust="spacingAndGlyphs">expression level</text>
<text x="661.48" y="617.3" font-size="43" stroke="#000" stroke-width="0.45" textLength="54.84" lengthAdjust="spacingAndGlyphs">(e)</text>
<rect x="721.6" y="650.9" width="494.4" height="444.9" fill="#f0f0f0" stroke="#3a3a3a" stroke-width="2.3"/>
<line x1="713.2" y1="672.6" x2="721.6" y2="672.6" stroke="#222" stroke-width="2"/>
<text x="671.37" y="682" font-size="25.2" stroke="#000" stroke-width="0.45" textLength="40.15" lengthAdjust="spacingAndGlyphs">100</text>
<line x1="713.2" y1="753.2" x2="721.6" y2="753.2" stroke="#222" stroke-width="2"/>
<text x="684.73" y="762.6" font-size="25.2" stroke="#000" stroke-width="0.45" textLength="26.77" lengthAdjust="spacingAndGlyphs">80</text>
<line x1="713.2" y1="833.4" x2="721.6" y2="833.4" stroke="#222" stroke-width="2"/>
<text x="684.73" y="842.8" font-size="25.2" stroke="#000" stroke-width="0.45" textLength="26.77" lengthAdjust="spacingAndGlyphs">60</text>
<line x1="713.2" y1="913.6" x2="721.6" y2="913.6" stroke="#222" stroke-width="2"/>
<text x="684.73" y="923" font-size="25.2" stroke="#000" stroke-width="0.45" textLength="26.77" lengthAdjust="spacingAndGlyphs">40</text>
<line x1="713.2" y1="993.6" x2="721.6" y2="993.6" stroke="#222" stroke-width="2"/>
<text x="684.73" y="1003" font-size="25.2" stroke="#000" stroke-width="0.45" textLength="26.77" lengthAdjust="spacingAndGlyphs">20</text>
<line x1="713.2" y1="1074.2" x2="721.6" y2="1074.2" stroke="#222" stroke-width="2"/>
<text x="698.09" y="1083.6" font-size="25.2" stroke="#000" stroke-width="0.45" textLength="13.38" lengthAdjust="spacingAndGlyphs">0</text>
<line x1="746.2" y1="1095.8" x2="746.2" y2="1103.5" stroke="#222" stroke-width="2.3"/>
<text x="740.41" y="1122.9" font-size="24.6" stroke="#000" stroke-width="0.45" textLength="12.61" lengthAdjust="spacingAndGlyphs">0</text>
<line x1="825.4" y1="1095.8" x2="825.4" y2="1103.5" stroke="#222" stroke-width="2.3"/>
<text x="808.88" y="1125.7" font-size="24.6" stroke="#000" stroke-width="0.45" textLength="33.43" lengthAdjust="spacingAndGlyphs">2.5</text>
<line x1="904.7" y1="1095.8" x2="904.7" y2="1103.5" stroke="#222" stroke-width="2.3"/>
<text x="887.98" y="1126" font-size="24.6" stroke="#000" stroke-width="0.45" textLength="33.15" lengthAdjust="spacingAndGlyphs">5.0</text>
<line x1="984.3" y1="1095.8" x2="984.3" y2="1103.5" stroke="#222" stroke-width="2.3"/>
<text x="967.73" y="1126.6" font-size="24.6" stroke="#000" stroke-width="0.45" textLength="33.78" lengthAdjust="spacingAndGlyphs">7.5</text>
<line x1="1063.8" y1="1095.8" x2="1063.8" y2="1103.5" stroke="#222" stroke-width="2.3"/>
<text x="1038.66" y="1125.4" font-size="24.6" stroke="#000" stroke-width="0.45" textLength="46.71" lengthAdjust="spacingAndGlyphs">10.0</text>
<line x1="1143.4" y1="1095.8" x2="1143.4" y2="1103.5" stroke="#222" stroke-width="2.3"/>
<text x="1113.93" y="1123.7" font-size="24.6" stroke="#000" stroke-width="0.45" textLength="47.61" lengthAdjust="spacingAndGlyphs">12.5</text>
<text x="898.12" y="1156.2" font-size="24.25" stroke="#000" stroke-width="0.45" textLength="152.28" lengthAdjust="spacingAndGlyphs">Futime (year)</text>
<text transform="translate(668.9,1000.26) rotate(-90)" font-size="24.6" stroke="#000" stroke-width="0.45" textLength="223.7" lengthAdjust="spacingAndGlyphs">Overall survival (%)</text>
<text x="920.94" y="683.7" font-size="19.35" stroke="#000" stroke-width="0.45" textLength="87.65" lengthAdjust="spacingAndGlyphs">HR=1.362</text>
<text x="885.82" y="707.8" font-size="19.3" stroke="#000" stroke-width="0.45" textLength="177.58" lengthAdjust="spacingAndGlyphs">95% CI=1.010-1.837</text>
<text x="929.53" y="730.4" font-size="19.5" stroke="#000" stroke-width="0.45" textLength="72.1" lengthAdjust="spacingAndGlyphs">p=0.043</text>
<path d="M747.2 672.7H749V677H750.8V681.3H752.5V685.5H754V690H755.5V694.4H757.4V701.2H759.2V707.9H761.1V712.4H763V716.9H764.1V724.4H765.2V731.9H766.3V739.4H767.4V746.9H769.7V755.9H772V761.1H774.2V766.3H776V772.3H777.9V778.3H779.4V785H780.9V791.8H783.2V798.5H785.4V805.3H787.6V811.3H789.9V817.3H792.9V821.8H795.9V826.2H798.7V835.5H802.5V842.9H804.4V847.8H806.2V852.7H808.1V859H810V865.4H815.9V869.9H819.7V875.9H823.4V879.6H833.2V880.4H833.9V886.4H836.9V893.9H842.9V896.9H847.4V901H863.9H866.1V905.1H869.9V907.3H870.6V913.3H880.3H881.8V917.4H890.1H891.6V922.3H895.3V923.8H896.8V929.1H921.5H922.3V937.3H991.9V948.5H1003.9V960.9H1189.2" stroke="#2db24a" stroke-width="1.8" fill="none" stroke-linejoin="miter"/>
<path d="M747.2 672.7H749.5V675.5H751.7V679H754V682.5H756.2V685.5H758.5V688.5H760.7V697.4H766.7H768.9V707.9H770V714.5H771.2V721.4H773V726H774.9V730.4H777.2V735.7H779.4V740.9H781V746.2H782.4V751.4H785V754.4H787.7V757.3H790.7V761.8H792.2V773.8H793.7V784.3H795.9V794.8H797.4V799.3H798.9V803.8H800.8V809H802.6V814.3H805.2V818.8H807.9V823.2H812.2V826.5H814.8V830.2H817.4V834H820.4V836.6H823.4V839.2H827.9V842.2H828.7V850.4H833.2V852.7H836.9V857.9H839.9V862.4H856.4V867.7H863.1V874.4H903.6V881.9H908.8V890.9H917.8V899.9H975.9V921.6H1023.4V959.7H1189.2" stroke="#3c57a7" stroke-width="1.8" fill="none" stroke-linejoin="miter"/>
<path d="M747.8 668.7v8M744.6 672.7h6.4M748.8 668.7v8M745.6 672.7h6.4M749.8 673v8M746.6 677h6.4M750.6 673v8M747.4 677h6.4M751.6 677.3v8M748.4 681.3h6.4M752.4 677.3v8M749.2 681.3h6.4M753.4 681.5v8M750.2 685.5h6.4M755 686v8M751.8 690h6.4M757.4 697.2v8M754.2 701.2h6.4M761.1 708.4v8M757.9 712.4h6.4M764.1 720.4v8M760.9 724.4h6.4M766.3 735.4v8M763.1 739.4h6.4M772 757.1v8M768.8 761.1h6.4M776 768.3v8M772.8 772.3h6.4M779.4 781v8M776.2 785h6.4M783.2 794.5v8M780 798.5h6.4M785 794.5v8M781.8 798.5h6.4M786 801.3v8M782.8 805.3h6.4M787 801.3v8M783.8 805.3h6.4M788 807.3v8M784.8 811.3h6.4M789 807.3v8M785.8 811.3h6.4M790 813.3v8M786.8 817.3h6.4M791 813.3v8M787.8 817.3h6.4M792.4 813.3v8M789.2 817.3h6.4M794 817.8v8M790.8 821.8h6.4M796 822.2v8M792.8 826.2h6.4M797.5 822.2v8M794.3 826.2h6.4M800 831.5v8M796.8 835.5h6.4M803 838.9v8M799.8 842.9h6.4M808 848.7v8M804.8 852.7h6.4M812 861.4v8M808.8 865.4h6.4M814 861.4v8M810.8 865.4h6.4M816 865.9v8M812.8 869.9h6.4M818 865.9v8M814.8 869.9h6.4M822 871.9v8M818.8 875.9h6.4M824 875.6v8M820.8 879.6h6.4M826 875.6v8M822.8 879.6h6.4M828 875.6v8M824.8 879.6h6.4M830 875.6v8M826.8 879.6h6.4M832 875.6v8M828.8 879.6h6.4M840 889.9v8M836.8 893.9h6.4M843 892.9v8M839.8 896.9h6.4M846 892.9v8M842.8 896.9h6.4M848 897v8M844.8 901h6.4M861.9 897v8M858.7 901h6.4M872.9 909.3v8M869.7 913.3h6.4M880.3 909.3v8M877.1 913.3h6.4M883.3 913.4v8M880.1 917.4h6.4M889.4 913.4v8M886.2 917.4h6.4M894 918.3v8M890.8 922.3h6.4M899.8 925.1v8M896.6 929.1h6.4M902 925.1v8M898.8 929.1h6.4M904.3 925.1v8M901.1 929.1h6.4M906.5 925.1v8M903.3 929.1h6.4M913.3 925.1v8M910.1 929.1h6.4M915.5 925.1v8M912.3 929.1h6.4M920.8 925.1v8M917.6 929.1h6.4M922.3 933.3v8M919.1 937.3h6.4M929.8 933.3v8M926.6 937.3h6.4M974.7 933.3v8M971.5 937.3h6.4M976.9 933.3v8M973.7 937.3h6.4M995.7 944.5v8M992.5 948.5h6.4M1004.2 956.9v8M1001 960.9h6.4M1007.6 956.9v8M1004.4 960.9h6.4M1039.1 956.9v8M1035.9 960.9h6.4M1044.4 956.9v8M1041.2 960.9h6.4M1092.6 956.9v8M1089.4 960.9h6.4M1124.2 956.9v8M1121 960.9h6.4M1178.5 956.9v8M1175.3 960.9h6.4" stroke="#2db24a" stroke-width="1.3" fill="none"/>
<path d="M749.5 671.5v8M746.3 675.5h6.4M751.7 675v8M748.5 679h6.4M754 678.5v8M750.8 682.5h6.4M756.2 681.5v8M753 685.5h6.4M758.5 684.5v8M755.3 688.5h6.4M762.7 693.4v8M759.5 697.4h6.4M764.9 693.4v8M761.7 697.4h6.4M770 710.5v8M766.8 714.5h6.4M773 722v8M769.8 726h6.4M775 726.4v8M771.8 730.4h6.4M776.5 726.4v8M773.3 730.4h6.4M778 731.7v8M774.8 735.7h6.4M779.4 736.9v8M776.2 740.9h6.4M781 742.2v8M777.8 746.2h6.4M782.4 747.4v8M779.2 751.4h6.4M784 747.4v8M780.8 751.4h6.4M785.5 750.4v8M782.3 754.4h6.4M787.7 753.3v8M784.5 757.3h6.4M789 753.3v8M785.8 757.3h6.4M790.7 757.8v8M787.5 761.8h6.4M792.2 769.8v8M789 773.8h6.4M793 769.8v8M789.8 773.8h6.4M793.7 780.3v8M790.5 784.3h6.4M795 780.3v8M791.8 784.3h6.4M795.9 790.8v8M792.7 794.8h6.4M797.4 795.3v8M794.2 799.3h6.4M798.9 799.8v8M795.7 803.8h6.4M800.8 805v8M797.6 809h6.4M802.6 810.3v8M799.4 814.3h6.4M805.2 814.8v8M802 818.8h6.4M809 819.2v8M805.8 823.2h6.4M811 819.2v8M807.8 823.2h6.4M813 822.5v8M809.8 826.5h6.4M815 826.2v8M811.8 830.2h6.4M817.4 830v8M814.2 834h6.4M819 830v8M815.8 834h6.4M821 832.6v8M817.8 836.6h6.4M823.4 835.2v8M820.2 839.2h6.4M830 846.4v8M826.8 850.4h6.4M835 848.7v8M831.8 852.7h6.4M838 853.9v8M834.8 857.9h6.4M840.7 858.4v8M837.5 862.4h6.4M842.9 858.4v8M839.7 862.4h6.4M848.9 858.4v8M845.7 862.4h6.4M851.9 858.4v8M848.7 862.4h6.4M863.9 870.4v8M860.7 874.4h6.4M865.4 870.4v8M862.2 874.4h6.4M870.6 870.4v8M867.4 874.4h6.4M872.9 870.4v8M869.7 874.4h6.4M878.9 870.4v8M875.7 874.4h6.4M880.3 870.4v8M877.1 874.4h6.4M885.6 870.4v8M882.4 874.4h6.4M887.8 870.4v8M884.6 874.4h6.4M890.1 870.4v8M886.9 874.4h6.4M909.6 886.9v8M906.4 890.9h6.4M916.3 886.9v8M913.1 890.9h6.4M920.8 895.9v8M917.6 899.9h6.4M922.3 895.9v8M919.1 899.9h6.4M924.5 895.9v8M921.3 899.9h6.4M932.8 895.9v8M929.6 899.9h6.4M935.8 895.9v8M932.6 899.9h6.4M945.5 895.9v8M942.3 899.9h6.4M947 895.9v8M943.8 899.9h6.4M949.2 895.9v8M946 899.9h6.4M953.7 895.9v8M950.5 899.9h6.4M957.5 895.9v8M954.3 899.9h6.4M981.4 917.6v8M978.2 921.6h6.4M988.9 917.6v8M985.7 921.6h6.4M997.9 917.6v8M994.7 921.6h6.4M1035.4 955.7v8M1032.2 959.7h6.4M1078.4 955.7v8M1075.2 959.7h6.4M1185.5 955.7v8M1182.3 959.7h6.4" stroke="#3c57a7" stroke-width="1.3" fill="none"/>
<path d="M747.8 668.7v8M744.6 672.7h6.4M748.8 668.7v8M745.6 672.7h6.4M749.8 673v8M746.6 677h6.4M750.6 673v8M747.4 677h6.4M751.6 677.3v8M748.4 681.3h6.4M752.4 677.3v8M749.2 681.3h6.4M753.4 681.5v8M750.2 685.5h6.4" stroke="#2db24a" stroke-width="1.3" fill="none"/>
<text x="1221.24" y="672.2" font-size="14.49" stroke="#000" stroke-width="0.45" textLength="63.64" lengthAdjust="spacingAndGlyphs">SLC12A8</text>
<path d="M1219.3 691.2h11.7v-5.2h12v5.2" stroke="#6f83d2" stroke-width="1.5" fill="none"/>
<path d="M1219.3 705.8h11.7v-5.2h12v5.2" stroke="#3fc56c" stroke-width="1.5" fill="none"/>
<text x="1247.57" y="693.7" font-size="14.6" stroke="#000" stroke-width="0.45" textLength="23.78" lengthAdjust="spacingAndGlyphs">low</text>
<text x="1248.74" y="708.6" font-size="14.6" stroke="#000" stroke-width="0.45" textLength="31.04" lengthAdjust="spacingAndGlyphs">high</text>
<text x="1314.37" y="617.3" font-size="43" stroke="#000" stroke-width="0.45" textLength="49.57" lengthAdjust="spacingAndGlyphs">(f)</text>
<rect x="1434.3" y="654.2" width="437.1" height="440.6" fill="#f0f0f0" stroke="#3a3a3a" stroke-width="2.3"/>
<line x1="1426.8" y1="675.8" x2="1434.3" y2="675.8" stroke="#222" stroke-width="2"/>
<text x="1387.23" y="686.1" font-size="24.2" stroke="#000" stroke-width="0.45" textLength="38.56" lengthAdjust="spacingAndGlyphs">100</text>
<line x1="1426.8" y1="755.3" x2="1434.3" y2="755.3" stroke="#222" stroke-width="2"/>
<text x="1400.06" y="765.6" font-size="24.2" stroke="#000" stroke-width="0.45" textLength="25.71" lengthAdjust="spacingAndGlyphs">80</text>
<line x1="1426.8" y1="834.8" x2="1434.3" y2="834.8" stroke="#222" stroke-width="2"/>
<text x="1400.06" y="845.1" font-size="24.2" stroke="#000" stroke-width="0.45" textLength="25.71" lengthAdjust="spacingAndGlyphs">60</text>
<line x1="1426.8" y1="914.5" x2="1434.3" y2="914.5" stroke="#222" stroke-width="2"/>
<text x="1400.06" y="924.8" font-size="24.2" stroke="#000" stroke-width="0.45" textLength="25.71" lengthAdjust="spacingAndGlyphs">40</text>
<line x1="1426.8" y1="993.9" x2="1434.3" y2="993.9" stroke="#222" stroke-width="2"/>
<text x="1400.06" y="1004.2" font-size="24.2" stroke="#000" stroke-width="0.45" textLength="25.71" lengthAdjust="spacingAndGlyphs">20</text>
<line x1="1426.8" y1="1073" x2="1434.3" y2="1073" stroke="#222" stroke-width="2"/>
<text x="1412.88" y="1083.3" font-size="24.2" stroke="#000" stroke-width="0.45" textLength="12.85" lengthAdjust="spacingAndGlyphs">0</text>
<line x1="1455.6" y1="1094.8" x2="1455.6" y2="1101.8" stroke="#222" stroke-width="2.3"/>
<text x="1450.18" y="1124.3" font-size="24.6" stroke="#000" stroke-width="0.45" textLength="13.07" lengthAdjust="spacingAndGlyphs">0</text>
<line x1="1554" y1="1094.8" x2="1554" y2="1101.8" stroke="#222" stroke-width="2.3"/>
<text x="1541.58" y="1124.3" font-size="24.6" stroke="#000" stroke-width="0.45" textLength="26.61" lengthAdjust="spacingAndGlyphs">50</text>
<line x1="1652.7" y1="1094.8" x2="1652.7" y2="1101.8" stroke="#222" stroke-width="2.3"/>
<text x="1632.77" y="1124.3" font-size="24.6" stroke="#000" stroke-width="0.45" textLength="39.75" lengthAdjust="spacingAndGlyphs">100</text>
<line x1="1751.3" y1="1094.8" x2="1751.3" y2="1101.8" stroke="#222" stroke-width="2.3"/>
<text x="1730.56" y="1121.8" font-size="24.6" stroke="#000" stroke-width="0.45" textLength="39.96" lengthAdjust="spacingAndGlyphs">150</text>
<line x1="1850" y1="1094.8" x2="1850" y2="1101.8" stroke="#222" stroke-width="2.3"/>
<text x="1830" y="1121.8" font-size="24.6" stroke="#000" stroke-width="0.45" textLength="39.21" lengthAdjust="spacingAndGlyphs">200</text>
<text x="1577.76" y="1153.7" font-size="24.11" stroke="#000" stroke-width="0.45" textLength="152.24" lengthAdjust="spacingAndGlyphs">Time (month)</text>
<text transform="translate(1384.6,1029.76) rotate(-90)" font-size="24.6" stroke="#000" stroke-width="0.45" textLength="282.44" lengthAdjust="spacingAndGlyphs">Disease free survival (%)</text>
<text x="1602.94" y="677.9" font-size="19.35" stroke="#000" stroke-width="0.45" textLength="87.66" lengthAdjust="spacingAndGlyphs">HR=2.008</text>
<text x="1558.42" y="699.9" font-size="19.33" stroke="#000" stroke-width="0.45" textLength="177.89" lengthAdjust="spacingAndGlyphs">95% CI=1.258-3.205</text>
<text x="1610.94" y="721.6" font-size="19.44" stroke="#000" stroke-width="0.45" textLength="71.89" lengthAdjust="spacingAndGlyphs">p=0.003</text>
<path d="M1456.1 676.2H1463.6V677.4H1464.9V694.9H1466.1V701H1467.4V707.4H1468.4V718.5H1469.4V729.9H1470V740H1470.6V749.8H1471.4V757.3H1472.3V764.8H1473.3V773.5H1474.3V782.3H1475.2V792.3H1476.1V802.3H1478V809.1H1479.8V816H1481.7V820.4H1483.6V824.8H1485.4V827.9H1487.3V831H1491.1V836H1493.6V844.7H1496.1V852.2H1498.6V856.7H1504.8H1506.1V868.5H1514.8V869.2V876.7H1528.5H1529.3V885H1541.8V893.5H1564.3V902.7H1627.7V920.6H1773.3V996.4H1779.5" stroke="#2db24a" stroke-width="1.35" fill="none" stroke-linejoin="miter"/>
<path d="M1456.1 676.2H1459.9V679.9H1462.4V683.7H1464.9V689.9H1467.4V698.6H1473.6V699.1H1474.8V703.6H1476.1V717.4H1478.6V726.1H1479.8V733.6H1486.1V737.4H1489.8V741.1H1491.1V746.1V766.1H1498.6V773.6H1504.8V774.8V781.1H1513.6V798.5H1519.8V799.3V808.5H1541V818.5H1598.5V844.7H1655.4V920.2H1705.9" stroke="#3c57a7" stroke-width="1.35" fill="none" stroke-linejoin="miter"/>
<path d="M1457 672.6v7.2M1454 676.2h6M1458 672.6v7.2M1455 676.2h6M1459 672.6v7.2M1456 676.2h6M1460 672.6v7.2M1457 676.2h6M1461 672.6v7.2M1458 676.2h6M1462 672.6v7.2M1459 676.2h6M1465.5 691.3v7.2M1462.5 694.9h6M1472.3 761.2v7.2M1469.3 764.8h6M1476.1 798.7v7.2M1473.1 802.3h6M1479 805.5v7.2M1476 809.1h6M1480.5 812.4v7.2M1477.5 816h6M1482 816.8v7.2M1479 820.4h6M1483.6 821.2v7.2M1480.6 824.8h6M1486 824.3v7.2M1483 827.9h6M1487.3 827.4v7.2M1484.3 831h6M1489.5 827.4v7.2M1486.5 831h6M1491.1 832.4v7.2M1488.1 836h6M1493.6 841.1v7.2M1490.6 844.7h6M1495 841.1v7.2M1492 844.7h6M1497.5 848.6v7.2M1494.5 852.2h6M1499.5 853.1v7.2M1496.5 856.7h6M1502.5 853.1v7.2M1499.5 856.7h6M1508 864.9v7.2M1505 868.5h6M1511 864.9v7.2M1508 868.5h6M1514 864.9v7.2M1511 868.5h6M1527.5 873.1v7.2M1524.5 876.7h6M1556 889.9v7.2M1553 893.5h6M1558.5 889.9v7.2M1555.5 893.5h6M1561 889.9v7.2M1558 893.5h6M1566 899.1v7.2M1563 902.7h6M1572.2 899.1v7.2M1569.2 902.7h6M1586 899.1v7.2M1583 902.7h6M1612.7 899.1v7.2M1609.7 902.7h6M1629.2 917v7.2M1626.2 920.6h6M1641 917v7.2M1638 920.6h6M1647.2 917v7.2M1644.2 920.6h6M1672.2 917v7.2M1669.2 920.6h6M1675.9 917v7.2M1672.9 920.6h6M1678.4 917v7.2M1675.4 920.6h6M1713.3 917v7.2M1710.3 920.6h6M1737.1 917v7.2M1734.1 920.6h6M1777 992.8v7.2M1774 996.4h6" stroke="#2db24a" stroke-width="1.1" fill="none"/>
<path d="M1457.5 672.6v7.2M1454.5 676.2h6M1458.5 672.6v7.2M1455.5 676.2h6M1459.9 676.3v7.2M1456.9 679.9h6M1461 676.3v7.2M1458 679.9h6M1462.4 680.1v7.2M1459.4 683.7h6M1464.9 686.3v7.2M1461.9 689.9h6M1473.6 695.5v7.2M1470.6 699.1h6M1476.1 713.8v7.2M1473.1 717.4h6M1478 713.8v7.2M1475 717.4h6M1479.8 730v7.2M1476.8 733.6h6M1481.5 730v7.2M1478.5 733.6h6M1483 730v7.2M1480 733.6h6M1484.5 730v7.2M1481.5 733.6h6M1486.1 733.8v7.2M1483.1 737.4h6M1488 733.8v7.2M1485 737.4h6M1489.8 737.5v7.2M1486.8 741.1h6M1491.1 762.5v7.2M1488.1 766.1h6M1493.5 762.5v7.2M1490.5 766.1h6M1497.3 762.5v7.2M1494.3 766.1h6M1506 777.5v7.2M1503 781.1h6M1508 777.5v7.2M1505 781.1h6M1509.5 777.5v7.2M1506.5 781.1h6M1523.5 804.9v7.2M1520.5 808.5h6M1526 804.9v7.2M1523 808.5h6M1532.3 804.9v7.2M1529.3 808.5h6M1543.5 814.9v7.2M1540.5 818.5h6M1548.5 814.9v7.2M1545.5 818.5h6M1554.7 814.9v7.2M1551.7 818.5h6M1559.7 814.9v7.2M1556.7 818.5h6M1582.2 814.9v7.2M1579.2 818.5h6M1586 814.9v7.2M1583 818.5h6M1588.5 814.9v7.2M1585.5 818.5h6M1595.9 814.9v7.2M1592.9 818.5h6M1603.4 841.1v7.2M1600.4 844.7h6M1606 841.1v7.2M1603 844.7h6M1609.6 841.1v7.2M1606.6 844.7h6M1636 841.1v7.2M1633 844.7h6M1642.2 841.1v7.2M1639.2 844.7h6M1669.7 916.6v7.2M1666.7 920.2h6M1702.6 916.6v7.2M1699.6 920.2h6" stroke="#3c57a7" stroke-width="1.1" fill="none"/>
<text x="1875.64" y="678.2" font-size="14.49" stroke="#000" stroke-width="0.45" textLength="63.64" lengthAdjust="spacingAndGlyphs">SLC12A8</text>
<path d="M1874.5 693.4h9.7v-5.2h11.3v5.2" stroke="#6f83d2" stroke-width="1.5" fill="none"/>
<path d="M1874.5 708.1h9.7v-5.2h11.3v5.2" stroke="#3fc56c" stroke-width="1.5" fill="none"/>
<text x="1897.44" y="695.9" font-size="14.6" stroke="#000" stroke-width="0.45" textLength="24.5" lengthAdjust="spacingAndGlyphs">low</text>
<text x="1896.43" y="710.9" font-size="14.6" stroke="#000" stroke-width="0.45" textLength="31.36" lengthAdjust="spacingAndGlyphs">high</text>
</svg>
</body></html>
